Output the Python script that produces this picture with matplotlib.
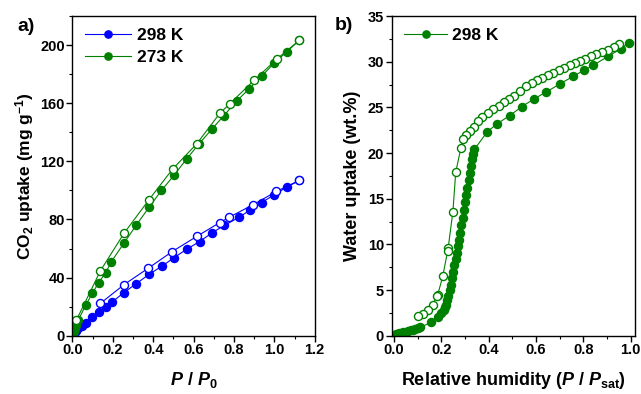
import matplotlib
matplotlib.use("Agg")
import matplotlib.pyplot as plt
from matplotlib.ticker import MultipleLocator, FormatStrFormatter

plt.rcParams['font.family'] = ['Liberation Sans', 'DejaVu Sans']
plt.rcParams['font.weight'] = 'bold'
plt.rcParams['mathtext.fontset'] = 'custom'
plt.rcParams['mathtext.rm'] = 'Liberation Sans:bold'
plt.rcParams['mathtext.bf'] = 'Liberation Sans:bold'
plt.rcParams['mathtext.it'] = 'Liberation Sans:bold:italic'
plt.rcParams['mathtext.default'] = 'bf'

# ---- Panel a: CO2 isotherms ----
co2_298_ads_x = [0.003, 0.01, 0.02, 0.03, 0.045, 0.066, 0.099, 0.13, 0.165, 0.195, 0.255, 0.317,
                 0.38, 0.445, 0.504, 0.569, 0.63, 0.689, 0.752, 0.826, 0.879, 0.937, 1.0, 1.061, 1.124]
co2_298_ads_y = [0.5, 1.5, 3.0, 5.0, 7.0, 9.0, 12.6, 16.0, 19.8, 23.0, 29.7, 35.9,
                 42.3, 48.0, 53.8, 59.8, 64.8, 70.6, 75.9, 81.6, 86.4, 91.7, 97.0, 102.3, 106.9]
co2_298_des_x = [1.124, 1.01, 0.896, 0.777, 0.73, 0.615, 0.494, 0.375, 0.256, 0.139]
co2_298_des_y = [106.9, 99.3, 90.3, 81.6, 77.9, 68.3, 57.9, 46.4, 35.2, 22.3]

co2_273_ads_x = [0.003, 0.008, 0.013, 0.02, 0.03, 0.066, 0.099, 0.13, 0.165, 0.193, 0.255, 0.317,
                 0.38, 0.441, 0.502, 0.565, 0.628, 0.691, 0.75, 0.815, 0.876, 0.94, 1.0, 1.061, 1.124]
co2_273_ads_y = [1.0, 3.0, 5.0, 7.5, 11.0, 21.1, 29.2, 36.6, 43.4, 51.0, 63.7, 76.3,
                 88.5, 100.0, 110.3, 121.6, 132.2, 142.3, 151.5, 161.8, 170.1, 179.1, 187.8, 195.4, 203.4]
co2_273_des_x = [1.124, 1.015, 0.9, 0.78, 0.73, 0.615, 0.496, 0.379, 0.256, 0.139, 0.02]
co2_273_des_y = [203.4, 190.8, 175.9, 159.8, 153.1, 132.0, 114.7, 93.6, 70.6, 44.8, 10.8]

# ---- Panel b: water isotherm 298 K ----
h2o_ads_x = [0.0, 0.005, 0.01, 0.015, 0.02, 0.03, 0.04, 0.05, 0.06, 0.07, 0.08, 0.09, 0.10, 0.11,
             0.157, 0.188, 0.199, 0.21, 0.215, 0.22, 0.225, 0.23, 0.235, 0.24, 0.245, 0.25, 0.255,
             0.26, 0.265, 0.27, 0.275, 0.28, 0.285, 0.29, 0.295, 0.30, 0.305, 0.31, 0.315, 0.32,
             0.325, 0.33, 0.335, 0.34, 0.393, 0.435, 0.489, 0.541, 0.59, 0.644, 0.703, 0.757,
             0.805, 0.842, 0.905, 0.958, 0.993]
h2o_ads_y = [0.0, 0.1, 0.17, 0.22, 0.27, 0.33, 0.4, 0.45, 0.52, 0.58, 0.64, 0.72, 0.8, 0.9,
             1.46, 2.05, 2.5, 2.8, 3.1, 3.4, 3.9, 4.4, 5.0, 5.6, 6.3, 7.0, 7.7,
             8.4, 9.1, 9.8, 10.5, 11.3, 12.1, 12.9, 13.8, 14.6, 15.4, 16.2, 17.0, 17.8,
             18.6, 19.3, 19.9, 20.4, 22.3, 23.2, 24.1, 25.1, 25.9, 26.7, 27.6, 28.4,
             29.1, 29.6, 30.6, 31.4, 32.1]
h2o_des_x = [0.953, 0.929, 0.905, 0.880, 0.856, 0.833, 0.809, 0.788, 0.764, 0.743, 0.718, 0.696,
             0.672, 0.650, 0.626, 0.605, 0.583, 0.559, 0.534, 0.508, 0.487, 0.463, 0.442, 0.418,
             0.396, 0.374, 0.356, 0.34, 0.322, 0.305, 0.29, 0.283, 0.261, 0.249, 0.229, 0.227,
             0.206, 0.185, 0.182, 0.164, 0.143, 0.121, 0.103]
h2o_des_y = [31.9, 31.6, 31.3, 31.1, 30.9, 30.6, 30.3, 30.1, 29.9, 29.6, 29.3, 29.1,
             28.8, 28.5, 28.2, 28.0, 27.7, 27.3, 26.8, 26.3, 25.9, 25.6, 25.2, 24.8,
             24.4, 24.0, 23.5, 22.9, 22.4, 22.0, 21.5, 20.6, 17.9, 13.6, 9.6, 9.3,
             6.5, 4.5, 4.4, 3.4, 2.8, 2.4, 2.2]

BLUE = '#0000FF'
GREEN = '#008000'
ms = 5.8
lw = 0.8

fig = plt.figure(figsize=(6.41, 3.94), dpi=100)
axa = fig.add_axes([0.113, 0.148, 0.378, 0.811])
axb = fig.add_axes([0.611, 0.148, 0.380, 0.811])

def style(ax):
    for s in ax.spines.values():
        s.set_linewidth(1.0)
    ax.tick_params(which='major', direction='out', length=4, width=1.0, labelsize=10.5,
                   top=False, right=False, pad=1.5)
    ax.tick_params(which='minor', direction='out', length=2.2, width=0.8, top=False, right=False)
    for lab in ax.get_xticklabels() + ax.get_yticklabels():
        lab.set_fontweight('bold')

# Panel a
axa.plot(co2_298_ads_x, co2_298_ads_y, '-o', color=BLUE, lw=lw, ms=ms, mfc=BLUE, mec=BLUE, label='298 K')
axa.plot(co2_298_des_x, co2_298_des_y, '-o', color=BLUE, lw=lw, ms=ms, mfc='white', mec=BLUE, mew=1.0)
axa.plot(co2_273_ads_x, co2_273_ads_y, '-o', color=GREEN, lw=lw, ms=ms, mfc=GREEN, mec=GREEN, label='273 K')
axa.plot(co2_273_des_x, co2_273_des_y, '-o', color=GREEN, lw=lw, ms=ms, mfc='white', mec=GREEN, mew=1.0)
axa.set_xlim(0, 1.2)
axa.set_ylim(0, 220)
axa.xaxis.set_major_locator(MultipleLocator(0.2))
axa.xaxis.set_minor_locator(MultipleLocator(0.1))
axa.yaxis.set_major_locator(MultipleLocator(40))
axa.yaxis.set_minor_locator(MultipleLocator(20))
axa.xaxis.set_major_formatter(FormatStrFormatter('%.1f'))
style(axa)
axa.set_xlabel(r'$\mathit{P}$ / $\mathit{P_0}$', fontsize=13, fontweight='bold', labelpad=9)
axa.set_ylabel(r'CO$_2$ uptake (mg g$^{-1}$)', fontsize=12.5, fontweight='bold', labelpad=3)
axa.legend(loc='upper left', frameon=False, handlelength=2.7, handletextpad=0.3,
           borderaxespad=0.3, labelspacing=0.35, markerscale=0.9,
           prop={'weight': 'bold', 'size': 12.5})
fig.text(0.027, 0.922, 'a)', fontsize=14, fontweight='bold')

# Panel b
axb.plot(h2o_ads_x, h2o_ads_y, '-o', color=GREEN, lw=lw, ms=ms, mfc=GREEN, mec=GREEN, label='298 K')
axb.plot(h2o_des_x, h2o_des_y, '-o', color=GREEN, lw=lw, ms=ms, mfc='white', mec=GREEN, mew=1.0)
axb.set_xlim(-0.01, 1.02)
axb.set_ylim(0, 35)
axb.xaxis.set_major_locator(MultipleLocator(0.2))
axb.xaxis.set_minor_locator(MultipleLocator(0.1))
axb.yaxis.set_major_locator(MultipleLocator(5))
axb.yaxis.set_minor_locator(MultipleLocator(2.5))
axb.xaxis.set_major_formatter(FormatStrFormatter('%.1f'))
style(axb)
axb.set_xlabel(r'Relative humidity ($\mathit{P}$ / $\mathit{P}_{\mathrm{sat}}$)', fontsize=13,
               fontweight='bold', labelpad=9)
axb.set_ylabel('Water uptake (wt.%)', fontsize=13, fontweight='bold', labelpad=5)
axb.legend(loc='upper left', frameon=False, handlelength=2.5, handletextpad=0.3,
           borderaxespad=0.3, markerscale=0.9, prop={'weight': 'bold', 'size': 12.5})
fig.text(0.522, 0.925, 'b)', fontsize=14, fontweight='bold')

fig.savefig('out.png', dpi=100)
